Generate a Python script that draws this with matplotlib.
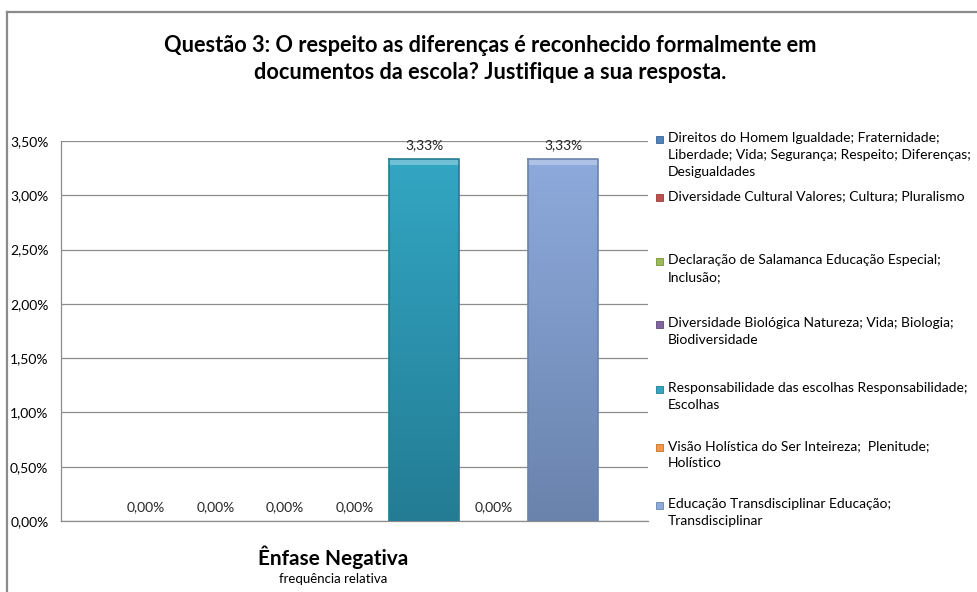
import numpy as np
import matplotlib
matplotlib.use("Agg")
import matplotlib.pyplot as plt
from matplotlib.lines import Line2D
from matplotlib.patches import Rectangle
from matplotlib.colors import LinearSegmentedColormap

plt.rcParams['font.family'] = ['Lato', 'DejaVu Sans']

title = "Questão 3: O respeito as diferenças é reconhecido formalmente em\ndocumentos da escola? Justifique a sua resposta."
category = "Ênfase Negativa"
axis_title = "frequência relativa"
series = [
    "Direitos do Homem Igualdade; Fraternidade;\nLiberdade; Vida; Segurança; Respeito; Diferenças;\nDesigualdades",
    "Diversidade Cultural Valores; Cultura; Pluralismo",
    "Declaração de Salamanca Educação Especial;\nInclusão;",
    "Diversidade Biológica Natureza; Vida; Biologia;\nBiodiversidade",
    "Responsabilidade das escolhas Responsabilidade;\nEscolhas",
    "Visão Holística do Ser Inteireza;  Plenitude;\nHolístico",
    "Educação Transdisciplinar Educação;\nTransdisciplinar",
]
values = [0.0, 0.0, 0.0, 0.0, 3.33, 0.0, 3.33]
colors = ["#4F81BD", "#C0504D", "#9BBB59", "#8064A2", "#33A6C3", "#F79646", "#8DAADC"]
dark_colors = ["#3A6496", "#963C3A", "#76923C", "#5F4A7B", "#237C94", "#C0732B", "#6A83AD"]
yticks = [0.0, 0.5, 1.0, 1.5, 2.0, 2.5, 3.0, 3.5]

W, H = 977, 592
fig = plt.figure(figsize=(W / 100, H / 100), dpi=100)
fig.patch.set_facecolor("white")

def fx(px):
    return px / W

def fy(py):
    return 1 - py / H

# plot area
left, right, top, bottom = 61, 648, 141, 521
ax = fig.add_axes([fx(left), fy(bottom), fx(right - left), fy(top) - fy(bottom)])
ax.set_facecolor("white")

n = len(values)
x = np.arange(n)

bars = ax.bar(x, values, width=1.0, color=colors, edgecolor="none", zorder=3)
for b, v, c1, c2 in zip(bars, values, colors, dark_colors):
    if v <= 0:
        continue
    cmap = LinearSegmentedColormap.from_list("g", [c2, c1])
    grad = np.linspace(0, 1, 256).reshape(-1, 1)
    bx, bw, bh = b.get_x(), b.get_width(), b.get_height()
    im = ax.imshow(grad, cmap=cmap, origin="lower", aspect="auto",
                   extent=[bx, bx + bw, 0, bh], zorder=4)
    im.set_clip_path(b)
    ax.add_patch(Rectangle((bx, bh - 0.05), bw, 0.05, facecolor="white", alpha=0.3,
                           edgecolor="none", zorder=5))
    ax.plot([bx, bx + bw, bx + bw], [bh, bh, 0], color=c2, lw=1.2, zorder=6)
    ax.plot([bx, bx], [0, bh], color=c2, lw=1.2, zorder=6)

ax.set_xlim(-1.22, n - 1 + 1.22)
ax.set_ylim(0, 3.5)

for xi, v in zip(x, values):
    lab = ("%.2f%%" % v).replace(".", ",")
    ax.text(xi, v + 0.13, lab, ha="center", va="center", fontsize=10, color="#262626", zorder=7)

ax.set_yticks(yticks)
ax.set_yticklabels([("%.2f%%" % t).replace(".", ",") for t in yticks], fontsize=10, color="#000000")
ax.tick_params(axis="y", length=0, pad=9)
ax.set_xticks([])
ax.yaxis.grid(True, color="#8C8C8C", lw=0.9, zorder=0)
ax.set_axisbelow(True)
for s in ["top", "right"]:
    ax.spines[s].set_visible(False)
for s in ["left", "bottom"]:
    ax.spines[s].set_color("#8C8C8C")
    ax.spines[s].set_linewidth(0.9)

# title
fig.text(fx(490), fy(59), title, ha="center", va="center", fontsize=15.7,
         fontweight="bold", linespacing=1.3, color="#000000")

# category / axis title
fig.text(fx(333), fy(557), category, ha="center", va="center", fontsize=15, fontweight="bold")
fig.text(fx(333), fy(579), axis_title, ha="center", va="center", fontsize=9.5)

# legend (manual, Excel-like: marker aligned with first line)
leg_y = [139, 197, 261, 324, 389, 447, 505]
for name, c1, c2, yy in zip(series, colors, dark_colors, leg_y):
    fig.patches.append(Rectangle((fx(656), fy(yy + 4)), fx(7), 7 / H, transform=fig.transFigure,
                                 facecolor=c1, edgecolor=c2, lw=0.6))
    fig.text(fx(668), fy(yy - 7), name, ha="left", va="top", fontsize=10,
             linespacing=1.5, color="#000000")

# chart border (top and left visible)
fig.lines.append(Line2D([fx(7), 1], [fy(12), fy(12)], transform=fig.transFigure, color="#8A8A8A", lw=1.6))
fig.lines.append(Line2D([fx(7), fx(7)], [0, fy(12)], transform=fig.transFigure, color="#8A8A8A", lw=1.6))

fig.savefig("out.png", dpi=100, facecolor="white")
